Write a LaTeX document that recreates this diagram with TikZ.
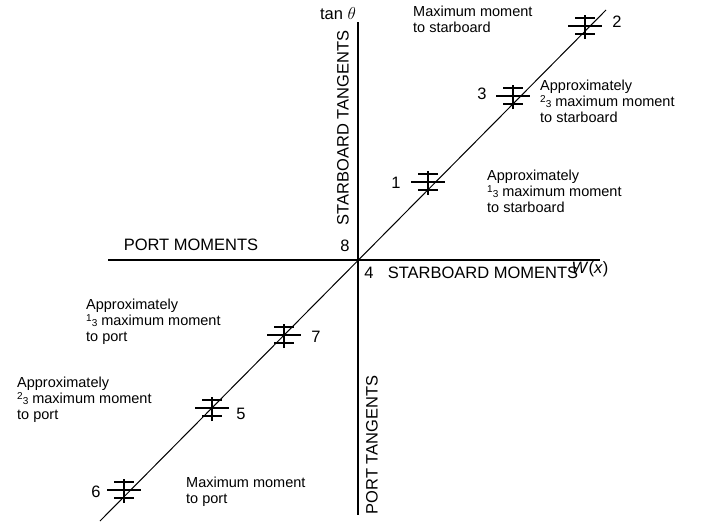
\documentclass[tikz,border=0pt]{standalone}
\usepackage{fontspec}
\setmainfont{Liberation Sans}
\begin{document}
\begin{tikzpicture}[x=1pt,y=-1pt,
  lab/.style={font=\fontsize{14.5}{16}\selectfont, inner sep=0pt},
  bigtxt/.style={font=\fontsize{16.5}{18}\selectfont, inner sep=0pt},
  blk/.style={lab, align=left, anchor=north west},
  ax/.style={line width=1.3pt},
  mk/.style={line width=1.3pt}]
\useasboundingbox (0,0) rectangle (715,530);
\newcommand\thr[1]{{\fontsize{10}{10}\selectfont\raisebox{4pt}{#1}\raisebox{-1pt}{3}}}
\coordinate (O) at (358,260);
\coordinate (L) at (108,260); \coordinate (R) at (600,260);
\coordinate (T) at (358,22); \coordinate (B) at (358,515);
\coordinate (D1) at (100,521); \coordinate (D2) at (606,10);
\draw[ax] (L) -- (R);
\draw[ax] (T) -- (B);
\draw[line width=1pt] (D1) -- (D2);
\foreach \n/\x/\y in {m1/428/183, m2/585/27, m3/513/97, m7/284/336, m5/212/409, m6/124/491}{
  \coordinate (\n) at (\x,\y);
  \draw[mk] ([yshift=-12]\n) -- ([yshift=12]\n);
  \draw[mk] ([xshift=-17,yshift=1]\n) -- ([xshift=17,yshift=1]\n);
  \draw[mk] ([xshift=-10,yshift=-7]\n) -- ([xshift=10,yshift=-7]\n);
  \draw[mk] ([xshift=-10,yshift=9]\n) -- ([xshift=10,yshift=9]\n);
}
\node[bigtxt] (n1) at (396,183) {1};
\node[bigtxt] (n2) at (617,22) {2};
\node[bigtxt] (n3) at (482,94) {3};
\node[bigtxt] (n7) at (316,337) {7};
\node[bigtxt] (n5) at (241,414) {5};
\node[bigtxt] (n6) at (96,492) {6};
\node[bigtxt] (n8) at (345,246) {8};
\node[bigtxt] (n4) at (369,273) {4};
\node[bigtxt] (tan) at (338,14) {tan $\theta$};
\node[bigtxt, rotate=90] (st) at (343,128) {STARBOARD TANGENTS};
\node[bigtxt, rotate=90] (pt) at (372,445) {PORT TANGENTS};
\node[bigtxt] (pm) at (191,245) {PORT MOMENTS};
\node[bigtxt] (sm) at (483,273) {STARBOARD MOMENTS};
\node[bigtxt] (w) at (590,269) {\textit{W}(\textit{x})};
\node[blk] (b2) at (413,6) {Maximum moment\\to starboard};
\node[blk] (b3) at (540,80) {Approximately\\\thr{2} maximum moment\\to starboard};
\node[blk] (b1) at (487,170) {Approximately\\\thr{1} maximum moment\\to starboard};
\node[blk] (b7) at (86,299) {Approximately\\\thr{1} maximum moment\\to port};
\node[blk] (b5) at (17,377) {Approximately\\\thr{2} maximum moment\\to port};
\node[blk] (b6) at (186,477) {Maximum moment\\to port};
\end{tikzpicture}
\end{document}
